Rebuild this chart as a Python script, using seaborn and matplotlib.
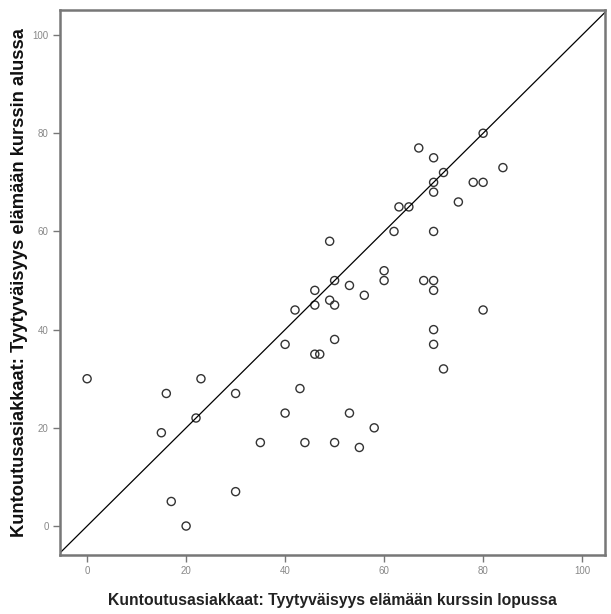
import matplotlib
matplotlib.use("Agg")
import matplotlib.pyplot as plt
import seaborn as sns
import pandas as pd

# Kuntoutusasiakkaat: lopussa (x) vs alussa (y)
lopussa = [0, 16, 15, 23, 22, 30, 17, 20, 30, 35, 40, 40, 43, 44, 42, 46, 46, 46, 47,
           49, 49, 50, 50, 50, 50, 53, 53, 56, 55, 58, 60, 60, 62, 63, 65, 67, 68,
           70, 70, 70, 72, 70, 70, 70, 70, 70, 72, 75, 78, 80, 80, 80, 84]
alussa = [30, 27, 19, 30, 22, 27, 5, 0, 7, 17, 23, 37, 28, 17, 44, 48, 45, 35, 35,
          58, 46, 45, 50, 38, 17, 49, 23, 47, 16, 20, 52, 50, 60, 65, 65, 77, 50,
          75, 70, 68, 72, 60, 50, 48, 40, 37, 32, 66, 70, 70, 80, 44, 73]
ticks = [0, 20, 40, 60, 80, 100]
xlabel = "Kuntoutusasiakkaat: Tyytyväisyys elämään kurssin lopussa"
ylabel = "Kuntoutusasiakkaat: Tyytyväisyys elämään kurssin alussa"

df = pd.DataFrame({"x": lopussa, "y": alussa})

sns.set_style("white")
plt.rcParams['font.family'] = ['Liberation Sans', 'DejaVu Sans']

fig = plt.figure(figsize=(6.11, 6.14), dpi=100)
ax = fig.add_axes([0.098, 0.0961, 0.892, 0.8876])

sns.scatterplot(data=df, x="x", y="y", ax=ax, marker="o", s=34,
                facecolor="none", edgecolor="#333333", linewidth=1.0)
ax.axline((0, 0), slope=1, color="black", linewidth=0.9)

ax.set_xlim(-5.5, 104.6)
ax.set_ylim(-5.9, 105.1)
ax.set_xticks(ticks)
ax.set_yticks(ticks)
ax.set_xticklabels([str(t) for t in ticks])
ax.set_yticklabels([str(t) for t in ticks])
ax.tick_params(axis="both", direction="out", length=5, width=1, color="#777777",
               labelsize=7, labelcolor="#888888", bottom=True, left=True, pad=3)
for sp in ax.spines.values():
    sp.set_color("#777777")
    sp.set_linewidth(1.8)

ax.set_xlabel(xlabel, fontsize=11.3, color="#222222", fontweight="bold", labelpad=12)
ax.set_ylabel(ylabel, fontsize=13.2, color="#111111", fontweight="bold", labelpad=3)

fig.savefig("out.png", dpi=100)
